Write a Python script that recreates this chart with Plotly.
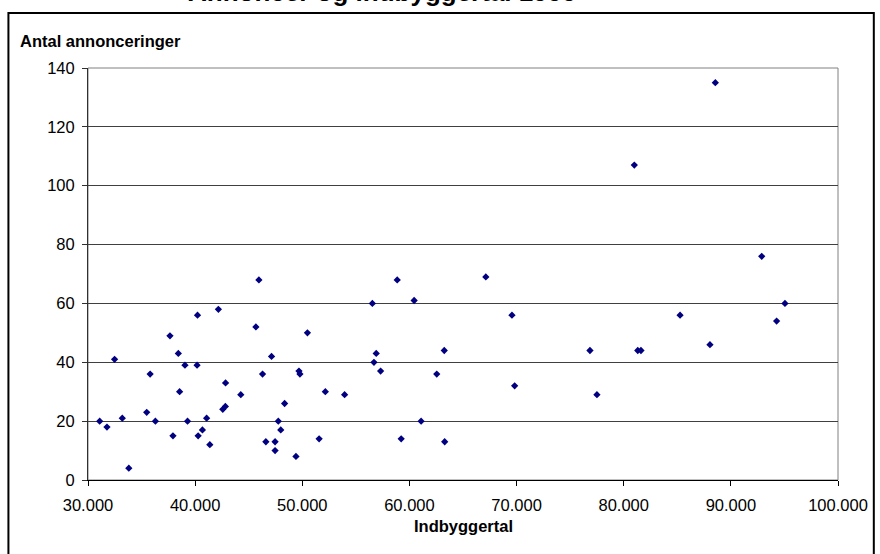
import plotly.graph_objects as go

# Municipal population (x) and number of job announcements (y)
indbyggertal = [
    31090, 31770, 32480, 33200, 33810, 35480, 35800, 36290, 37650, 37930,
    38430, 38550, 39050, 39290, 40220, 40180, 40280, 40680, 41070, 41370,
    42170, 42580, 42820, 42840, 44260, 45670, 45950, 46290, 46600, 47130,
    47460, 47460, 47760, 47990, 48350, 49410, 49690, 49780, 50480, 51570,
    52150, 53950,
    56540, 56900, 56690, 57310, 58860, 59230, 60440, 61090, 62550, 63250,
    63290, 67130, 69570, 69820,
    76850, 77500, 81310, 81610, 85260, 88050, 92880, 94270, 95050,
    80990, 88550,
]
annonceringer = [
    20, 18, 41, 21, 4, 23, 36, 20, 49, 15,
    43, 30, 39, 20, 56, 39, 15, 17, 21, 12,
    58, 24, 25, 33, 29, 52, 68, 36, 13, 42,
    13, 10, 20, 17, 26, 8, 37, 36, 50, 14,
    30, 29,
    60, 43, 40, 37, 68, 14, 61, 20, 36, 44,
    13, 69, 56, 32,
    44, 29, 44, 44, 56, 46, 76, 54, 60,
    107, 135,
]

titel = "Annoncer og indbyggertal 1999"
x_titel = "Indbyggertal"
y_titel = "Antal annonceringer"

FONT = "Arial, Liberation Sans, sans-serif"

# Plot area in pixels (used to place frame and labels in paper units)
W, H = 880, 554
L, R, T, B = 88, 842, 68, 480
pw, ph = R - L, B - T


def px(xp):
    return (xp - L) / pw


def py(yp):
    return (B - yp) / ph


fig = go.Figure(
    go.Scatter(
        x=indbyggertal,
        y=annonceringer,
        mode="markers",
        marker=dict(symbol="diamond", size=5.6, color="#000080",
                    line=dict(width=0)),
        hoverinfo="x+y",
    )
)

fig.update_layout(
    width=W,
    height=H,
    margin=dict(l=L, r=W - R, t=T, b=H - B, pad=0),
    paper_bgcolor="white",
    plot_bgcolor="white",
    separators=",.",
    showlegend=False,
    font=dict(family=FONT, size=16.5, color="#000000"),
    xaxis=dict(
        range=[30000, 100000],
        tickvals=[30000, 40000, 50000, 60000, 70000, 80000, 90000, 100000],
        tickformat=",.0f",
        showgrid=False,
        zeroline=False,
        showline=True,
        linecolor="#000000",
        linewidth=1,
        ticks="outside",
        ticklen=5,
        tickcolor="#000000",
        ticklabelstandoff=5,
        tickfont=dict(family=FONT, size=16.5, color="#000000"),
    ),
    yaxis=dict(
        range=[0, 140],
        tickvals=[0, 20, 40, 60, 80, 100, 120, 140],
        showgrid=True,
        gridcolor="#404040",
        gridwidth=1,
        zeroline=False,
        showline=True,
        linecolor="#303030",
        linewidth=1,
        ticks="outside",
        ticklen=5,
        tickcolor="#303030",
        ticklabelstandoff=4,
        tickfont=dict(family=FONT, size=16.5, color="#000000"),
    ),
    shapes=[
        # grey border around the plot area
        dict(type="rect", xref="paper", yref="paper", x0=0, x1=1, y0=0, y1=1,
             line=dict(color="#808080", width=1), layer="below"),
        # outer chart frame
        dict(type="rect", xref="paper", yref="paper",
             x0=px(8), x1=px(878), y0=py(570), y1=py(13),
             line=dict(color="#000000", width=2)),
    ],
    annotations=[
        dict(text=f"<b>{y_titel}</b>", xref="paper", yref="paper",
             x=px(18), y=py(41), xanchor="left", yanchor="middle",
             showarrow=False, font=dict(family=FONT, size=16.5)),
        dict(text=f"<b>{x_titel}</b>", xref="paper", yref="paper",
             x=px(465), y=py(526), xanchor="center", yanchor="middle",
             showarrow=False, font=dict(family=FONT, size=16.5)),
        dict(text=f"<b>{titel}</b>", xref="paper", yref="paper",
             x=px(384), y=py(9), xanchor="center", yanchor="bottom",
             showarrow=False, font=dict(family=FONT, size=26)),
    ],
)

fig.write_html("out.html")
